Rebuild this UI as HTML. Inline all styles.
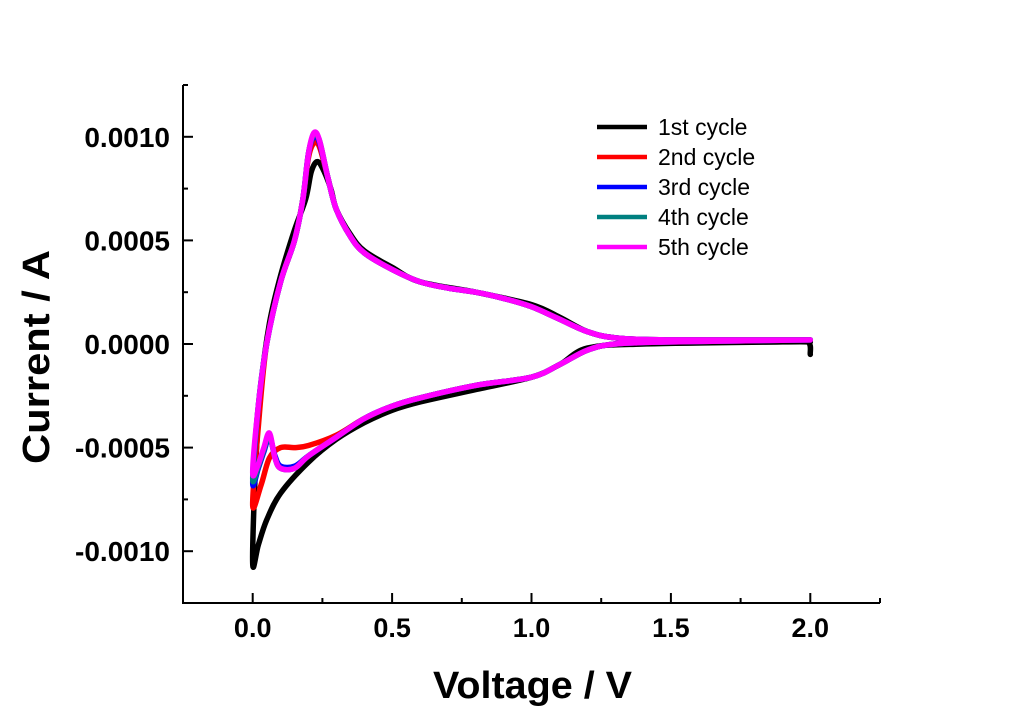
<!DOCTYPE html>
<html><head><meta charset="utf-8"><style>
html,body{margin:0;padding:0;background:#fff;}
svg{display:block;font-family:"Liberation Sans",Arial,sans-serif;}
</style></head><body>
<svg id="chart" width="1024" height="723" viewBox="0 0 1024 723" xmlns="http://www.w3.org/2000/svg">
<g id="series"></g>
<g id="axes"></g>
<g id="legend"></g>
<text x="433" y="698" textLength="199" lengthAdjust="spacingAndGlyphs" font-size="38" font-weight="bold">Voltage / V</text>
<text transform="translate(49,464) rotate(-90)" textLength="214" lengthAdjust="spacingAndGlyphs" font-size="38" font-weight="bold">Current / A</text>
</svg>
<script>
const xTicks=[0.0,0.5,1.0,1.5,2.0];
const xTickLabels=["0.0","0.5","1.0","1.5","2.0"];
const yTicks=[-0.001,-0.0005,0,0.0005,0.001];
const yTickLabels=["-0.0010","-0.0005","0.0000","0.0005","0.0010"];
const seriesNames=["1st cycle","2nd cycle","3rd cycle","4th cycle","5th cycle"];
const seriesColors=["#000000","#ff0000","#0000ff","#008080","#ff00ff"];
const c1V=[2.0,1.9,1.4,1.2,1.1,1.0,0.8,0.6,0.5,0.4,0.3,0.2,0.1,0.05,0.02,0.0,0.01,0.03,0.06,0.1,0.15,0.19,0.21,0.23,0.25,0.28,0.3,0.35,0.4,0.5,0.6,0.8,1.0,1.1,1.2,1.3,1.5,1.9,1.99,2.0];
const c1I=[0.00001,0.00001,0.0,-0.00002,-0.0001,-0.00016,-0.00022,-0.00028,-0.00032,-0.00038,-0.00046,-0.00057,-0.00072,-0.00085,-0.00097,-0.00106,-0.0006,-0.0002,0.0001,0.00033,0.00055,0.0007,0.00083,0.00088,0.00085,0.00075,0.00065,0.00053,0.00045,0.00037,0.0003,0.00025,0.00019,0.00013,0.00006,0.00003,0.00001,0.00001,0.00001,-0.00005];
const c2V=[2.0,1.5,1.3,1.2,1.1,1.0,0.8,0.6,0.5,0.4,0.3,0.2,0.15,0.1,0.06,0.03,0.0,0.02,0.05,0.1,0.15,0.18,0.2,0.22,0.24,0.27,0.3,0.35,0.4,0.5,0.6,0.7,0.8,0.9,1.0,1.1,1.2,1.3,1.5,2.0];
const c2I=[0.00002,0.00001,0.0,-0.00003,-0.0001,-0.00016,-0.0002,-0.00026,-0.0003,-0.00036,-0.00044,-0.00049,-0.0005,-0.0005,-0.00055,-0.00068,-0.00078,-0.0004,0.0,0.0003,0.0005,0.0007,0.0009,0.00097,0.00095,0.0008,0.00065,0.00052,0.00044,0.00036,0.0003,0.00027,0.00025,0.00022,0.00018,0.00012,0.00006,0.00003,0.00002,0.00002];
const c3V=[2.0,1.5,1.3,1.2,1.1,1.0,0.8,0.6,0.5,0.4,0.3,0.2,0.15,0.1,0.08,0.06,0.04,0.02,0.0,0.02,0.05,0.1,0.15,0.18,0.2,0.22,0.24,0.27,0.3,0.35,0.4,0.5,0.6,0.7,0.8,0.9,1.0,1.1,1.2,1.3,1.5,2.0];
const c3I=[0.00002,0.00001,0.0,-0.00003,-0.0001,-0.00016,-0.0002,-0.00026,-0.0003,-0.00036,-0.00045,-0.00054,-0.00059,-0.00059,-0.00054,-0.00045,-0.00052,-0.0006,-0.00067,-0.0003,0.0,0.0003,0.0005,0.0007,0.00092,0.001,0.00097,0.0008,0.00065,0.00052,0.00044,0.00036,0.0003,0.00027,0.00025,0.00022,0.00018,0.00012,0.00006,0.00003,0.00002,0.00002];
const c4V=c3V;
const c4I=[0.00002,0.00001,0.0,-0.00003,-0.0001,-0.00016,-0.0002,-0.00026,-0.0003,-0.00036,-0.00045,-0.00054,-0.0006,-0.0006,-0.00055,-0.00044,-0.00051,-0.00059,-0.00065,-0.0003,0.0,0.0003,0.0005,0.0007,0.00092,0.00101,0.00098,0.0008,0.00065,0.00052,0.00044,0.00036,0.0003,0.00027,0.00025,0.00022,0.00018,0.00012,0.00006,0.00003,0.00002,0.00002];
const c5V=c3V;
const c5I=[0.00002,0.00001,0.0,-0.00003,-0.0001,-0.00016,-0.0002,-0.00026,-0.0003,-0.00036,-0.00045,-0.00054,-0.0006,-0.0006,-0.00055,-0.00043,-0.0005,-0.00058,-0.00062,-0.0003,0.0,0.0003,0.0005,0.0007,0.00092,0.00102,0.00098,0.0008,0.00065,0.00052,0.00044,0.00036,0.0003,0.00027,0.00025,0.00022,0.00018,0.00012,0.00006,0.00003,0.00002,0.00002];
const allV=[c1V,c2V,c3V,c4V,c5V];
const allI=[c1I,c2I,c3I,c4I,c5I];

const NS="http://www.w3.org/2000/svg";
const L=183,R=880,T=85,B=603;
const xMin=-0.25,xMax=2.25,yMin=-0.00125,yMax=0.00125;
function xs(v){return L+(v-xMin)/(xMax-xMin)*(R-L);}
function ys(v){return B-(v-yMin)/(yMax-yMin)*(B-T);}
function mk(tag,attrs,parent){const e=document.createElementNS(NS,tag);for(const k in attrs)e.setAttribute(k,attrs[k]);parent.appendChild(e);return e;}

const sg=document.getElementById('series');
for(let s=0;s<5;s++){
  const V=allV[s],I=allI[s];
  let pts=[];
  for(let i=0;i<V.length;i++)pts.push([xs(V[i]),ys(I[i])]);
  let d="M"+pts[0][0].toFixed(1)+","+pts[0][1].toFixed(1);
  for(let i=0;i<pts.length-1;i++){
    const p0=pts[Math.max(0,i-1)],p1=pts[i],p2=pts[i+1],p3=pts[Math.min(pts.length-1,i+2)];
    const c1x=p1[0]+(p2[0]-p0[0])/6,c1y=p1[1]+(p2[1]-p0[1])/6;
    const c2x=p2[0]-(p3[0]-p1[0])/6,c2y=p2[1]-(p3[1]-p1[1])/6;
    d+=" C"+c1x.toFixed(1)+","+c1y.toFixed(1)+" "+c2x.toFixed(1)+","+c2y.toFixed(1)+" "+p2[0].toFixed(1)+","+p2[1].toFixed(1);
  }
  const p=mk('path',{d:d,fill:'none',stroke:seriesColors[s],'stroke-width':5.5,'stroke-linejoin':'round','stroke-linecap':'round'},sg);
  
  
}

const ag=document.getElementById('axes');
const xl=mk('line',{x1:L,y1:B,x2:R,y2:B,stroke:'#000','stroke-width':2},ag);


const yl=mk('line',{x1:L,y1:T,x2:L,y2:B+1,stroke:'#000','stroke-width':2},ag);


for(let i=0;i<xTicks.length;i++){
  const x=xs(xTicks[i]);
  const t=mk('line',{x1:x,y1:B,x2:x,y2:B-10,stroke:'#000','stroke-width':2},ag);
  
  
  const lb=mk('text',{x:x,y:B+34,'text-anchor':'middle','font-size':27,'font-weight':'bold'},ag);
  lb.textContent=xTickLabels[i];
  
  
}
for(let v=-0.25;v<=2.26;v+=0.5){
  const x=xs(v);
  const t=mk('line',{x1:x,y1:B,x2:x,y2:B-5,stroke:'#000','stroke-width':2},ag);
  
  
}
for(let i=0;i<yTicks.length;i++){
  const y=ys(yTicks[i]);
  const t=mk('line',{x1:L,y1:y,x2:L+10,y2:y,stroke:'#000','stroke-width':2},ag);
  
  
  const lb=mk('text',{x:L-13,y:y+10,'text-anchor':'end','font-size':28,'font-weight':'bold'},ag);
  lb.textContent=yTickLabels[i];
  
  
}
for(let v=-0.00125;v<=0.00126;v+=0.0005){
  const y=ys(v);
  const t=mk('line',{x1:L,y1:y,x2:L+5,y2:y,stroke:'#000','stroke-width':2},ag);
  
  
}
const lg=document.getElementById('legend');
for(let s=0;s<5;s++){
  const y=127+s*30;
  const ln=mk('line',{x1:597,y1:y,x2:647,y2:y,stroke:seriesColors[s],'stroke-width':4.5},lg);
  
  
  const tx=mk('text',{x:658,y:y+8,'font-size':23},lg);
  tx.textContent=seriesNames[s];
  
  
}
</script>
</body></html>
